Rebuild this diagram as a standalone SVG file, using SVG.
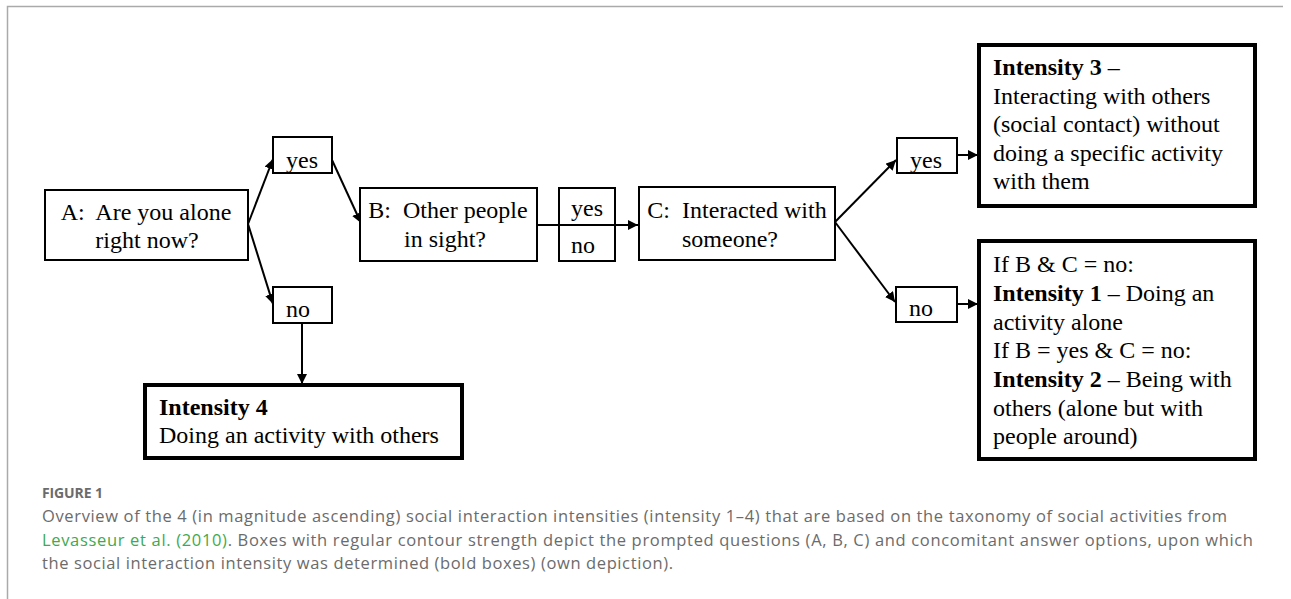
<svg xmlns="http://www.w3.org/2000/svg" width="1291" height="599" viewBox="0 0 1291 599">
<defs>
<style>
.box{fill:#fff;stroke:#000;stroke-width:2}
.bold{fill:#fff;stroke:#000;stroke-width:4}
.t{font-family:"Liberation Serif","Times New Roman",serif;font-size:24px;fill:#000}
.b{font-weight:bold}
.c{font-family:"Open Sans","Lato",sans-serif;font-size:16.5px;fill:#6b6b6b}
.conn{stroke:#000;stroke-width:2;fill:none;marker-end:url(#ah)}
</style>
<marker id="ah" viewBox="0 0 10 10" refX="10" refY="5" markerWidth="5" markerHeight="5" orient="auto" markerUnits="strokeWidth">
<path d="M0,0 L10,5 L0,10 z" fill="#000"/>
</marker>
</defs>
<rect width="1291" height="599" fill="#fff"/>
<path d="M7.5,599 V6.5 H1283" fill="none" stroke="#aaa" stroke-width="1.5"/>

<g id="connectors">
<line class="conn" x1="248" y1="224" x2="273" y2="159"/>
<line class="conn" x1="248" y1="224" x2="273" y2="304"/>
<line class="conn" x1="332" y1="160" x2="361" y2="223"/>
<line class="conn" x1="302" y1="323" x2="302" y2="384"/>
<line class="conn" x1="537" y1="225" x2="638" y2="225"/>
<line class="conn" x1="835" y1="222" x2="896" y2="160"/>
<line class="conn" x1="835" y1="222" x2="895" y2="302"/>
<line class="conn" x1="957" y1="155" x2="978" y2="155"/>
<line class="conn" x1="957" y1="304" x2="978" y2="304"/>
</g>

<g id="nodeA">
<rect class="box" x="45" y="190" width="203" height="70"/>
<text class="t" x="146" y="220" text-anchor="middle">A:&#160; Are you alone</text>
<text class="t" x="147" y="248" text-anchor="middle">right now?</text>
</g>
<g id="yesA">
<rect class="box" x="273" y="137" width="59" height="36"/>
<text class="t" x="302" y="168" text-anchor="middle">yes</text>
</g>
<g id="noA">
<rect class="box" x="273" y="287" width="59" height="36"/>
<text class="t" x="298" y="317" text-anchor="middle">no</text>
</g>
<g id="nodeI4">
<rect class="bold" x="145" y="385" width="317" height="73"/>
<text class="t b" x="159" y="415">Intensity 4</text>
<text class="t" x="159" y="443">Doing an activity with others</text>
</g>
<g id="nodeB">
<rect class="box" x="360" y="188" width="177" height="73"/>
<text class="t" x="448" y="218" text-anchor="middle">B:&#160; Other people</text>
<text class="t" x="445" y="247" text-anchor="middle">in sight?</text>
</g>
<g id="yesnoB">
<rect class="box" x="559" y="188" width="56" height="73" style="fill:none"/>
<text class="t" x="587" y="216" text-anchor="middle">yes</text>
<text class="t" x="583" y="253" text-anchor="middle">no</text>
</g>
<g id="nodeC">
<rect class="box" x="639" y="187" width="196" height="73"/>
<text class="t" x="737" y="218" text-anchor="middle">C:&#160; Interacted with</text>
<text class="t" x="730" y="247" text-anchor="middle">someone?</text>
</g>
<g id="yesC">
<rect class="box" x="897" y="138" width="60" height="35"/>
<text class="t" x="926" y="168" text-anchor="middle">yes</text>
</g>
<g id="noC">
<rect class="box" x="896" y="287" width="61" height="35"/>
<text class="t" x="921" y="316" text-anchor="middle">no</text>
</g>
<g id="nodeI3">
<rect class="bold" x="979" y="45" width="276" height="161"/>
<text class="t" x="993" y="75"><tspan class="b">Intensity 3</tspan> –</text>
<text class="t" x="993" y="103.5">Interacting with others</text>
<text class="t" x="993" y="132">(social contact) without</text>
<text class="t" x="993" y="160.5">doing a specific activity</text>
<text class="t" x="993" y="189">with them</text>
</g>
<g id="nodeI12">
<rect class="bold" x="979" y="241" width="276" height="218"/>
<text class="t" x="993" y="272">If B &amp; C = no:</text>
<text class="t" x="993" y="301"><tspan class="b">Intensity 1</tspan> – Doing an</text>
<text class="t" x="993" y="329.5">activity alone</text>
<text class="t" x="993" y="358">If B = yes &amp; C = no:</text>
<text class="t" x="993" y="387"><tspan class="b">Intensity 2</tspan> – Being with</text>
<text class="t" x="993" y="415.5">others (alone but with</text>
<text class="t" x="993" y="443.5">people around)</text>
</g>

<g id="caption">
<text class="c" x="42" y="498" style="font-size:14px;font-weight:bold" textLength="61">FIGURE 1</text>
<text class="c" x="42" y="522" textLength="1185">Overview of the 4 (in magnitude ascending) social interaction intensities (intensity 1–4) that are based on the taxonomy of social activities from</text>
<text class="c" x="42" y="545.5" textLength="1211"><tspan fill="#3fa94c">Levasseur et al. (2010)</tspan>. Boxes with regular contour strength depict the prompted questions (A, B, C) and concomitant answer options, upon which</text>
<text class="c" x="42" y="569" textLength="631">the social interaction intensity was determined (bold boxes) (own depiction).</text>
</g>
</svg>
